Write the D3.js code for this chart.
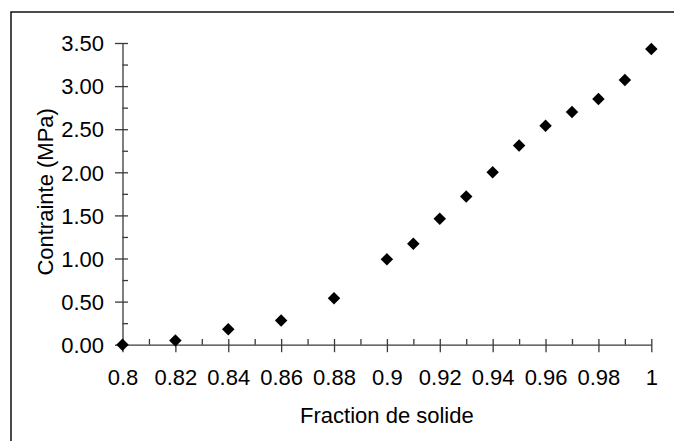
<!DOCTYPE html>
<html>
<head>
<meta charset="utf-8">
<script src="https://cdn.jsdelivr.net/npm/d3@7"></script>
<style>
  html, body { margin: 0; padding: 0; background: #fff; }
  svg { display: block; }
  text { font-family: "Liberation Sans", Arial, sans-serif; fill: #000; }
</style>
</head>
<body>
<svg id="chart" width="674" height="441"></svg>
<script>
// Data
const fraction = [0.80, 0.82, 0.84, 0.86, 0.88, 0.90, 0.91, 0.92, 0.93, 0.94, 0.95, 0.96, 0.97, 0.98, 0.99, 1.00];
const contrainte = [0.00, 0.05, 0.18, 0.28, 0.54, 0.99, 1.17, 1.46, 1.72, 2.00, 2.31, 2.54, 2.70, 2.85, 3.07, 3.43];
const xTicks = [0.8, 0.82, 0.84, 0.86, 0.88, 0.9, 0.92, 0.94, 0.96, 0.98, 1];
const xMinorTicks = [0.81, 0.83, 0.85, 0.87, 0.89, 0.91, 0.93, 0.95, 0.97, 0.99];
const yTicks = [0, 0.5, 1, 1.5, 2, 2.5, 3, 3.5];
const yMinorTicks = [0.25, 0.75, 1.25, 1.75, 2.25, 2.75, 3.25];
const xTitle = "Fraction de solide";
const yTitle = "Contrainte (MPa)";

const svg = d3.select("#chart");
const axisColor = "#3a3a3a";

// Outer frame (right/bottom edges fall outside the picture)
svg.append("rect")
  .attr("x", 11).attr("y", 12)
  .attr("width", 700).attr("height", 460)
  .attr("fill", "none").attr("stroke", "#111").attr("stroke-width", 1.5);

const x = d3.scaleLinear().domain([0.8, 1]).range([122.5, 651.3]);
const y = d3.scaleLinear().domain([0, 3.5]).range([344.7, 43]);

// Y axis major
const gy = svg.append("g").attr("transform", `translate(${x(0.8)},0)`)
  .call(d3.axisLeft(y).tickValues(yTicks).tickFormat(d3.format(".2f")).tickSize(7.5).tickPadding(0).tickSizeOuter(0));
gy.select(".domain").attr("stroke", axisColor).attr("stroke-width", 1.3);
gy.selectAll(".tick line").attr("stroke", axisColor).attr("stroke-width", 1.3).attr("x1", 5.5);
gy.selectAll(".tick text").attr("x", -18.5).attr("dy", "0.35em").attr("font-size", 22).attr("fill", "#000");

// Y axis minor
const gym = svg.append("g").attr("transform", `translate(${x(0.8)},0)`)
  .call(d3.axisRight(y).tickValues(yMinorTicks).tickSize(5.5).tickFormat(""));
gym.select(".domain").remove();
gym.selectAll(".tick line").attr("stroke", axisColor).attr("stroke-width", 1.3);

// X axis major
const gx = svg.append("g").attr("transform", `translate(0,${y(0)})`)
  .call(d3.axisBottom(x).tickValues(xTicks).tickFormat(d => d3.format("")(+d.toFixed(2))).tickSize(7.5).tickPadding(0).tickSizeOuter(0));
gx.select(".domain").attr("stroke", axisColor).attr("stroke-width", 1.3);
gx.selectAll(".tick line").attr("stroke", axisColor).attr("stroke-width", 1.3).attr("y1", -5.7);
gx.selectAll(".tick text").attr("y", 40.5).attr("dy", 0).attr("font-size", 22).attr("fill", "#000");

// X axis minor
const gxm = svg.append("g").attr("transform", `translate(0,${y(0)})`)
  .call(d3.axisTop(x).tickValues(xMinorTicks).tickSize(5.7).tickFormat(""));
gxm.select(".domain").remove();
gxm.selectAll(".tick line").attr("stroke", axisColor).attr("stroke-width", 1.3);

// Points (diamonds)
const diamond = d3.symbol().type(d3.symbolSquare).size(78);
svg.append("g").selectAll("path")
  .data(fraction.map((f, i) => ({ f, v: contrainte[i] })))
  .join("path")
  .attr("d", diamond)
  .attr("transform", d => `translate(${x(d.f)},${y(d.v)}) rotate(45)`)
  .attr("fill", "#000");

// Axis titles
svg.append("text")
  .attr("x", (x(0.8) + x(1)) / 2).attr("y", 422.5)
  .attr("text-anchor", "middle").attr("font-size", 22)
  .text(xTitle);

svg.append("text")
  .attr("transform", `translate(52.5,${(y(0) + y(3.5)) / 2 - 2}) rotate(-90)`)
  .attr("text-anchor", "middle").attr("font-size", 22)
  .text(yTitle);
</script>
</body>
</html>
